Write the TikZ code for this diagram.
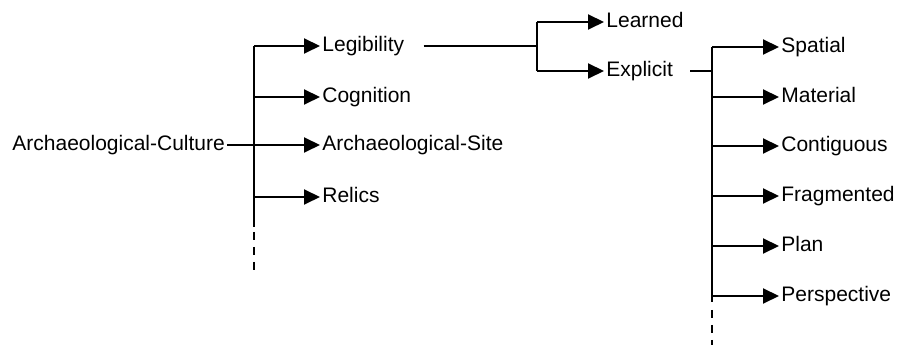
\documentclass[tikz,border=0pt]{standalone}
\usepackage{fontspec}
\setmainfont{Liberation Sans}
\usetikzlibrary{arrows.meta}

\begin{document}
\begin{tikzpicture}[x=0.5pt, y=-0.5pt,
  term/.style={anchor=west, inner sep=1pt, font=\fontsize{10.5}{12}\selectfont, text height=7.6pt, text depth=2.2pt},
  line/.style={line width=1pt},
  arrow/.style={line width=1pt, -{Triangle[length=8pt,width=7.5pt]}},
  fade/.style={line width=1pt, dash pattern=on 4pt off 3.5pt, shorten <=2.5pt},
]
\useasboundingbox (0,0) rectangle (901,347);

% === ROOT AND FIRST LEVEL ===
\node[term] (culture) at (10,145) {Archaeological-Culture};
\node[term] (leg) at (320,46) {Legibility};
\node[term] (cog) at (320,97) {Cognition};
\node[term] (site) at (320,145) {Archaeological-Site};
\node[term] (rel) at (320,197) {Relics};

\coordinate (trunkA) at (254,46);
\coordinate (trunkAend) at (254,227);
\coordinate (trunkAdots) at (254,270);

\draw[line] (trunkA) -- (trunkAend);
\draw[fade] (trunkAend) -- (trunkAdots);
\draw[arrow] (culture.east) -- (site.west);
\foreach \n in {leg,cog,rel}
  \draw[arrow] (trunkA |- \n.west) -- (\n.west);

% === LEGIBILITY ===
\node[term] (learn) at (604,22) {Learned};
\node[term] (expl) at (604,71) {Explicit};

\coordinate (forkL) at (537,46);
\coordinate (forkLtop) at (537,22);
\coordinate (forkLbot) at (537,71);

\draw[line, shorten <=8.5pt] (leg.east) -- (forkL);
\draw[line] (forkLtop) -- (forkLbot);
\draw[arrow] (forkLtop) -- (learn.west);
\draw[arrow] (forkLbot) -- (expl.west);

% === EXPLICIT ===
\node[term] (spat) at (779,47) {Spatial};
\node[term] (mat) at (779,97) {Material};
\node[term] (cont) at (779,146) {Contiguous};
\node[term] (frag) at (779,196) {Fragmented};
\node[term] (plan) at (779,246) {Plan};
\node[term] (persp) at (779,296) {Perspective};

\coordinate (trunkB) at (712,47);
\coordinate (trunkBend) at (712,302);
\coordinate (trunkBdots) at (712,345);

\draw[line, shorten <=7.5pt] (expl.east) -- (expl.east -| trunkB);
\draw[line] (trunkB) -- (trunkBend);
\draw[fade, shorten <=4pt] (trunkBend) -- (trunkBdots);
\foreach \n in {spat,mat,cont,frag,plan,persp}
  \draw[arrow] (trunkB |- \n.west) -- (\n.west);
\end{tikzpicture}
\end{document}
